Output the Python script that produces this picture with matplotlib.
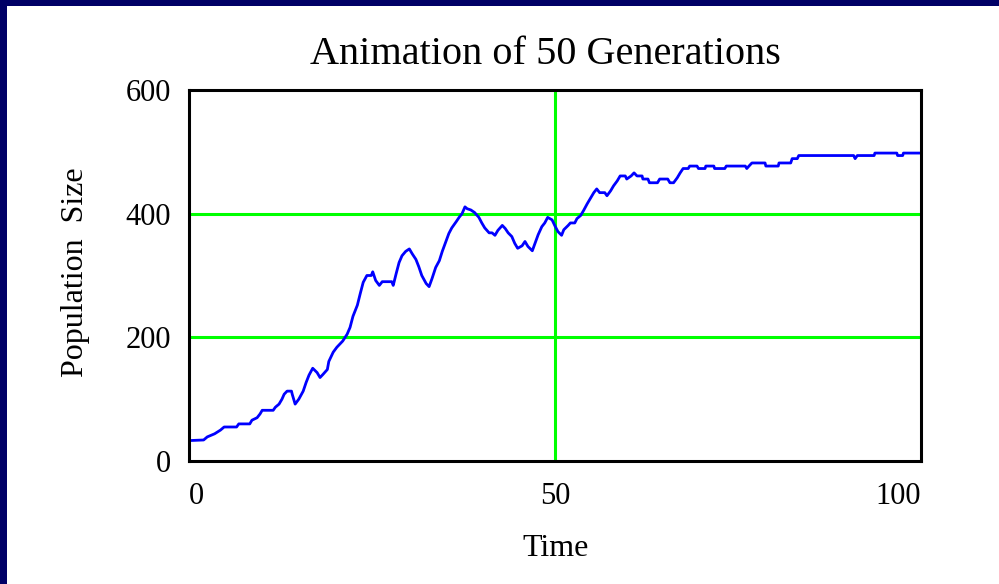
import matplotlib
matplotlib.use("Agg")
import matplotlib.pyplot as plt
from matplotlib.patches import Rectangle

# ---- data ----
time = [0, 2, 2.5, 3.5, 4.3, 4.8, 6.5, 6.8, 8.3, 8.6, 9.3, 9.7, 10, 11.5, 11.8,
        12.3, 12.7, 13, 13.4, 14.0, 14.1, 14.5, 15.0, 15.6, 16.0, 16.4, 16.9,
        17.5, 17.9, 18.3, 18.9, 19.1, 19.7, 20.2, 20.6, 21.0, 21.6, 22.0, 22.4,
        23.0, 23.4, 23.8, 24.3, 24.9, 25.1, 25.5, 26.0, 26.4, 27.7, 27.9, 28.3,
        28.7, 29.1, 29.6, 30.1, 30.5, 31.0, 31.4, 31.8, 32.4, 32.8, 33.2, 33.7,
        34.2, 34.6, 35.1, 35.5, 35.9, 36.5, 36.9, 37.3, 37.7, 38.0, 38.5, 39.0,
        39.6, 40.0, 40.4, 41.0, 41.4, 41.8, 42.2, 42.8, 43.2, 43.6, 44.1, 44.5,
        44.9, 45.5, 45.9, 46.3, 46.9, 47.3, 47.7, 48.2, 48.6, 49.0, 49.6, 50.0,
        50.4, 50.9, 51.2, 51.8, 52.1, 52.7, 53.0, 53.5, 53.9, 54.4, 54.9, 55.3,
        55.7, 56.1, 56.8, 57.1, 57.6, 58.0, 58.5, 58.9, 59.6, 59.8, 60.4, 60.8,
        61.2, 61.9, 62.0, 62.7, 62.9, 64.0, 64.3, 65.4, 65.7, 66.2, 66.7, 67.1,
        67.5, 68.2, 68.4, 69.4, 69.6, 70.5, 70.6, 71.7, 71.8, 73.2, 73.4, 76.0,
        76.2, 76.5, 76.9, 78.7, 78.8, 80.5, 80.6, 82.2, 82.4, 83.1, 83.3, 90.8,
        91.0, 91.3, 93.6, 93.7, 96.7, 96.8, 97.5, 97.6, 100]
population = [33, 34, 39, 44, 50, 55, 55, 60, 60, 66, 70, 76, 82, 82, 87,
              92, 100, 108, 113, 113, 108, 92, 100, 113, 127, 139, 150,
              143, 135, 140, 148, 161, 176, 184, 189, 194, 205, 216, 234,
              252, 271, 289, 300, 300, 306, 292, 284, 290, 290, 284, 303,
              321, 332, 339, 343, 335, 326, 314, 300, 287, 282, 295, 313,
              324, 339, 355, 368, 377, 387, 394, 400, 411, 408, 406, 402,
              394, 385, 377, 369, 369, 365, 373, 381, 376, 369, 363, 352,
              344, 348, 355, 347, 340, 353, 366, 379, 385, 394, 390, 380,
              371, 365, 374, 381, 385, 385, 392, 397, 405, 416, 426, 434,
              440, 434, 434, 429, 437, 445, 453, 461, 461, 456, 461, 466,
              461, 461, 456, 456, 450, 450, 456, 456, 450, 450, 458, 466,
              473, 473, 477, 477, 473, 473, 477, 477, 473, 473, 477, 477,
              473, 477, 482, 482, 477, 477, 482, 482, 489, 489, 494, 494,
              489, 494, 494, 498, 498, 494, 494, 498, 498]

x_ticks = [0, 50, 100]
y_ticks = [0, 200, 400, 600]
grid_y = [200, 400]
grid_x = [50]

title = "Animation of 50 Generations"
xlabel = "Time"
ylabel = "Population  Size"

# ---- figure ----
W, H = 999, 584
fig = plt.figure(figsize=(W / 100, H / 100), dpi=100)
fig.patch.set_facecolor("white")

navy = "#000066"
fig.patches.append(Rectangle((0, 1 - 6 / H), 1, 6 / H, transform=fig.transFigure,
                             facecolor=navy, edgecolor="none", zorder=0))
fig.patches.append(Rectangle((0, 0), 7 / W, 1, transform=fig.transFigure,
                             facecolor=navy, edgecolor="none", zorder=0))

ax = fig.add_axes([189 / W, 123 / H, 732 / W, 371 / H])
ax.set_xlim(0, 100)
ax.set_ylim(0, 600)

for gy in grid_y:
    ax.axhline(gy, color="#00ff00", lw=2.2, zorder=1)
for gx in grid_x:
    ax.axvline(gx, color="#00ff00", lw=2.2, zorder=1)

ax.plot(time, population, color="#0000ff", lw=2.0, zorder=2)

for s in ax.spines.values():
    s.set_linewidth(2.2)
    s.set_color("black")

font = "Liberation Serif"
ax.set_xticks(x_ticks)
ax.set_yticks(y_ticks)
ax.tick_params(length=0)
ax.tick_params(axis="x", pad=15)
ax.tick_params(axis="y", pad=13)
xt = ax.set_xticklabels([str(v) for v in x_ticks], fontfamily=font, fontsize=22)
yt = ax.set_yticklabels([str(v) for v in y_ticks], fontfamily=font, fontsize=22)
xt[0].set_ha("left")
xt[-1].set_ha("right")

fig.text(545 / W, 1 - 54 / H, title, fontfamily=font, fontsize=29,
         ha="center", va="center")
fig.text(556 / W, 1 - 549 / H, xlabel, fontfamily=font, fontsize=23,
         ha="center", va="center")
fig.text(75 / W, 1 - 272 / H, ylabel, fontfamily=font, fontsize=23,
         ha="center", va="center", rotation=90)

fig.savefig("out.png", dpi=100)
